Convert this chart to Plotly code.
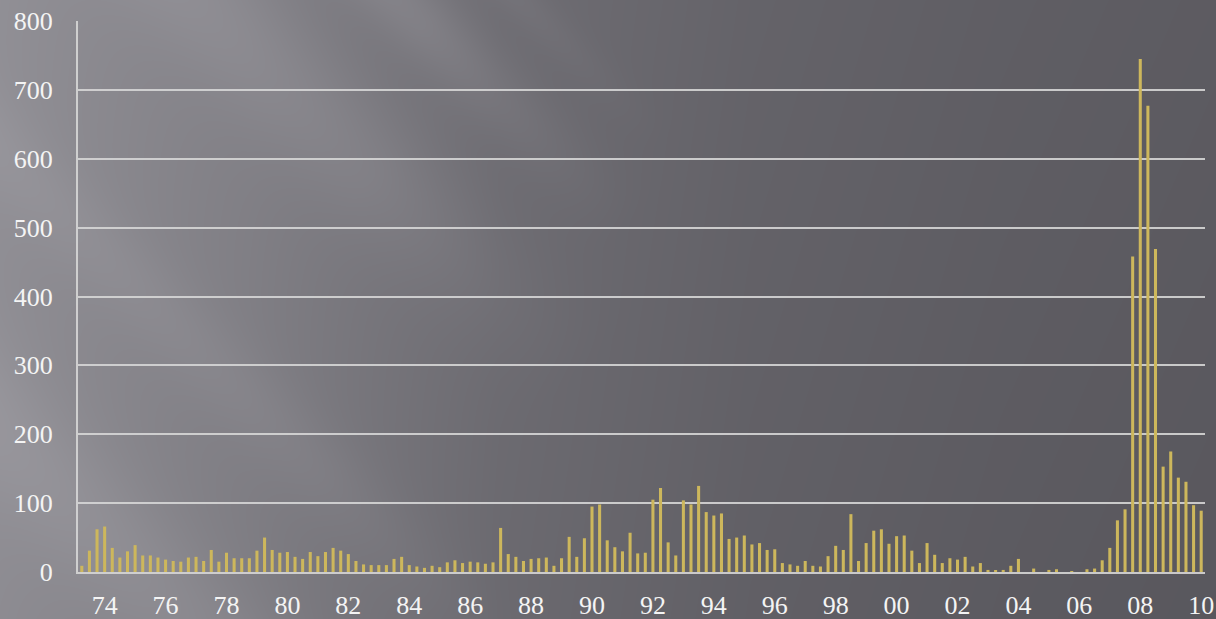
import base64
import struct
import zlib

import numpy as np
import plotly.graph_objects as go

# Quarterly series, 1973Q2 .. 2010Q1
start_year, start_q = 1973, 2
values = [
    9, 31, 62, 66, 35, 21, 30, 39, 24, 24,
    21, 18, 16, 15, 21, 22, 16, 32, 15, 28,
    20, 20, 20, 31, 50, 32, 28, 29, 22, 19,
    29, 23, 29, 35, 31, 26, 16, 11, 10, 10,
    10, 19, 22, 10, 8, 6, 9, 7, 14, 17,
    13, 15, 14, 12, 14, 64, 26, 22, 16, 19,
    20, 21, 9, 20, 51, 22, 49, 95, 98, 46,
    36, 30, 57, 27, 28, 105, 122, 43, 24, 104,
    98, 125, 87, 82, 85, 48, 50, 53, 40, 42,
    32, 33, 13, 11, 9, 16, 9, 8, 23, 38,
    32, 84, 16, 42, 60, 62, 41, 52, 53, 31,
    13, 42, 25, 13, 20, 18, 22, 8, 13, 3,
    2, 3, 9, 19, 0, 5, 0, 3, 4, 0,
    1, 0, 4, 5, 17, 35, 75, 91, 458, 745,
    677, 469, 153, 175, 137, 131, 97, 89,
]

quarters = []
y, q = start_year, start_q
for _ in values:
    quarters.append(f"{y}Q{q}")
    q += 1
    if q == 5:
        q, y = 1, y + 1

# Two-digit year labels at the first quarter of every even year
tick_vals = [c for c in quarters if c.endswith("Q1") and int(c[:4]) % 2 == 0]
tick_text = [c[2:4] for c in tick_vals]

y_ticks = list(range(0, 801, 100))

W, H = 1216, 619
ML, MR, MT, MB = 78, 11, 21, 47
PW, PH = W - ML - MR, H - MT - MB


def make_png(rgb):
    h, w, _ = rgb.shape
    raw = b"".join(b"\x00" + rgb[r].tobytes() for r in range(h))

    def chunk(tag, data):
        c = struct.pack(">I", len(data)) + tag + data
        return c + struct.pack(">I", zlib.crc32(tag + data) & 0xFFFFFFFF)

    head = struct.pack(">IIBBBBB", w, h, 8, 2, 0, 0, 0)
    return (b"\x89PNG\r\n\x1a\n" + chunk(b"IHDR", head)
            + chunk(b"IDAT", zlib.compress(raw, 9)) + chunk(b"IEND", b""))


# Dark slate backdrop: lighter on the left, with soft diagonal light streaks
xx, yy = np.meshgrid(np.arange(W, dtype=float), np.arange(H, dtype=float))
stops_x = [0, 250, 500, 750, 1000, 1216]
stops_v = [146, 131, 112, 102, 97, 94]
base = np.interp(xx, stops_x, stops_v) - 0.006 * yy
u = xx - yy          # constant along down-right diagonals
v = xx + yy
light = np.zeros_like(base)
for c, s, a, vmax in [(200, 60, 10, 950), (400, 35, 13, 850), (520, 20, 8, 800),
                      (-430, 60, 9, 1400), (-150, 40, 6, 1200)]:
    fade = np.clip((vmax - v) / 400.0, 0, 1)
    light += a * np.exp(-0.5 * ((u - c) / s) ** 2) * fade
lum = base + light
img = np.stack([lum - 1, lum - 2.5, lum + 3.5], axis=-1)
img = np.clip(img, 0, 255).astype(np.uint8)
bg_src = "data:image/png;base64," + base64.b64encode(make_png(img)).decode()

font_family = "Palatino Linotype, Book Antiqua, Liberation Serif, serif"
grid_col = "rgba(214,214,214,0.9)"
tick_font = dict(family=font_family, size=26, color="#f4f4f4")

fig = go.Figure(
    go.Bar(
        x=quarters,
        y=values,
        marker=dict(color="#CDB75C", line=dict(width=0)),
        hovertemplate="%{x}: %{y}<extra></extra>",
    )
)

fig.update_layout(
    width=W,
    height=H,
    margin=dict(l=ML, r=MR, t=MT, b=MB, autoexpand=False),
    paper_bgcolor="#66646a",
    plot_bgcolor="rgba(0,0,0,0)",
    bargap=0.6,
    showlegend=False,
    font=dict(family=font_family, color="#f4f4f4", size=26),
    images=[dict(
        source=bg_src,
        xref="paper", yref="paper",
        x=-ML / PW, y=1 + MT / PH,
        sizex=W / PW, sizey=H / PH,
        xanchor="left", yanchor="top",
        sizing="stretch", layer="below",
    )],
)

fig.update_xaxes(
    type="category",
    categoryorder="array",
    categoryarray=quarters,
    range=[-0.5, len(quarters) - 0.5],
    tickmode="array",
    tickvals=tick_vals,
    ticktext=tick_text,
    showgrid=False,
    showline=True,
    linecolor=grid_col,
    linewidth=2,
    ticks="",
    automargin=False,
    ticklabelstandoff=9,
    tickfont=tick_font,
)

fig.update_yaxes(
    range=[0, 800],
    tickmode="array",
    tickvals=y_ticks,
    showgrid=True,
    gridcolor=grid_col,
    gridwidth=2,
    zeroline=False,
    showline=True,
    linecolor=grid_col,
    linewidth=2,
    ticks="",
    automargin=False,
    ticklabelstandoff=18,
    tickfont=tick_font,
)

fig.write_html("out.html")
